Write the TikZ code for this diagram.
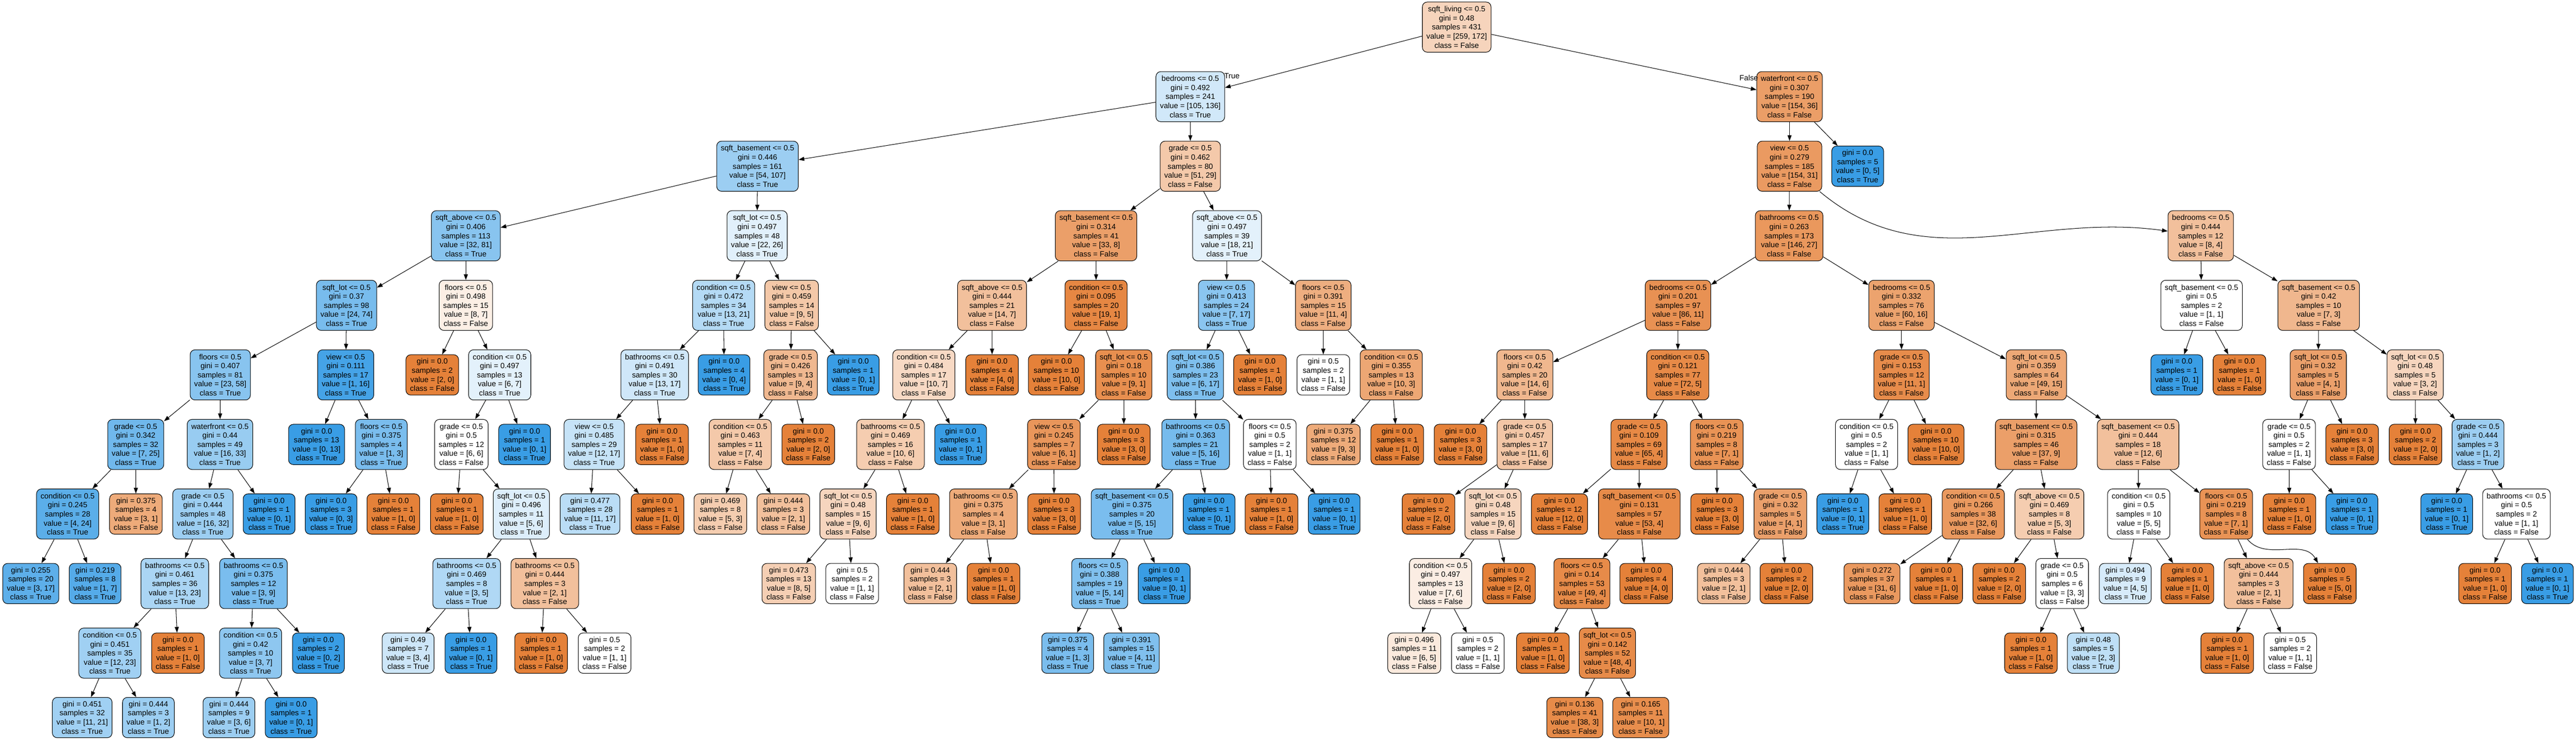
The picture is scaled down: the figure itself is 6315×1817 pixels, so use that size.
\documentclass[tikz,border=0pt]{standalone}
\usepackage{fontspec}
\usetikzlibrary{arrows.meta}
\newfontfamily\dtfont{Liberation Sans}
\definecolor{cF}{RGB}{229,129,57}
\definecolor{cT}{RGB}{57,157,229}
\newcommand\dtcolor[2]{%
  \ifnum#1<#2\relax
    \pgfmathtruncatemacro\dtp{round(100*(#2-#1)/#2)}%
    \colorlet{dtcol}{cT!\dtp!white}\def\dtcls{True}%
  \else
    \pgfmathtruncatemacro\dtp{round(100*(#1-#2)/#1)}%
    \colorlet{dtcol}{cF!\dtp!white}\def\dtcls{False}%
  \fi}
\newcommand\dsplit[8]{\dtcolor{#7}{#8}%
  \node[splitbox, fill=dtcol] (#1) at (#2,-#3) {#4\\gini = #5\\samples = #6\\value = [#7, #8]\\class = \dtcls};}
\newcommand\dleaf[7]{\dtcolor{#6}{#7}%
  \node[leafbox, fill=dtcol] (#1) at (#2,-#3) {gini = #4\\samples = #5\\value = [#6, #7]\\class = \dtcls};}
\begin{document}
\begin{tikzpicture}[x=1pt, y=1pt,
  dtbox/.style={rectangle, rounded corners=12pt, draw=black, line width=1.3pt, align=center,
    font={\dtfont\fontsize{18.6}{22.2}\selectfont}, inner xsep=10pt, inner ysep=0pt},
  splitbox/.style={dtbox, minimum height=123pt},
  leafbox/.style={dtbox, minimum height=99pt},
  dtedge/.style={-{Triangle[length=14pt,width=10pt]}, line width=1.3pt, draw=black},
  lbl/.style={font={\dtfont\fontsize{18.6}{22.2}\selectfont}, inner sep=0pt}]
\useasboundingbox[fill=white] (0,0) rectangle (6315,-1817);
% level 0-3
\dsplit{r}{3571}{66.5}{sqft\_living <= 0.5}{0.48}{431}{259}{172}
\dsplit{a1}{2918}{237.1}{bedrooms <= 0.5}{0.492}{241}{105}{136}
\dsplit{a2}{4387}{237.1}{waterfront <= 0.5}{0.307}{190}{154}{36}
\dsplit{b1}{1857}{407.7}{sqft\_basement <= 0.5}{0.446}{161}{54}{107}
\dsplit{b2}{2918}{407.7}{grade <= 0.5}{0.462}{80}{51}{29}
\dsplit{b3}{4387}{407.7}{view <= 0.5}{0.279}{185}{154}{31}
\dleaf{b4}{4554}{407.7}{0.0}{5}{0}{5}
\dsplit{c1}{1142}{578.3}{sqft\_above <= 0.5}{0.406}{113}{32}{81}
\dsplit{c2}{1856}{578.3}{sqft\_lot <= 0.5}{0.497}{48}{22}{26}
\dsplit{c3}{2687}{578.3}{sqft\_basement <= 0.5}{0.314}{41}{33}{8}
\dsplit{c4}{3008}{578.3}{sqft\_above <= 0.5}{0.497}{39}{18}{21}
\dsplit{c5}{4386}{578.3}{bathrooms <= 0.5}{0.263}{173}{146}{27}
\dsplit{c6}{5395}{578.3}{bedrooms <= 0.5}{0.444}{12}{8}{4}
% level 4
\dsplit{d1}{849.5}{748.9}{sqft\_lot <= 0.5}{0.37}{98}{24}{74}
\dsplit{d2}{1142}{748.9}{floors <= 0.5}{0.498}{15}{8}{7}
\dsplit{d3}{1774}{748.9}{condition <= 0.5}{0.472}{34}{13}{21}
\dsplit{d4}{1940.7}{748.9}{view <= 0.5}{0.459}{14}{9}{5}
\dsplit{d5}{2432}{748.9}{sqft\_above <= 0.5}{0.444}{21}{14}{7}
\dsplit{d6}{2687}{748.9}{condition <= 0.5}{0.095}{20}{19}{1}
\dsplit{d7}{3006.5}{748.9}{view <= 0.5}{0.413}{24}{7}{17}
\dsplit{d8}{3244}{748.9}{floors <= 0.5}{0.391}{15}{11}{4}
\dsplit{d9}{4113.6}{748.9}{bedrooms <= 0.5}{0.201}{97}{86}{11}
\dsplit{d10}{4661.5}{748.9}{bedrooms <= 0.5}{0.332}{76}{60}{16}
\dsplit{d11}{5397}{748.9}{sqft\_basement <= 0.5}{0.5}{2}{1}{1}
\dsplit{d12}{5684}{748.9}{sqft\_basement <= 0.5}{0.42}{10}{7}{3}
% level 5
\dsplit{e1}{540}{919.5}{floors <= 0.5}{0.407}{81}{23}{58}
\dsplit{e2}{847.5}{919.5}{view <= 0.5}{0.111}{17}{1}{16}
\dleaf{e3}{1059.7}{919.5}{0.0}{2}{2}{0}
\dsplit{e4}{1225}{919.5}{condition <= 0.5}{0.497}{13}{6}{7}
\dsplit{e5}{1605}{919.5}{bathrooms <= 0.5}{0.491}{30}{13}{17}
\dleaf{e6}{1775}{919.5}{0.0}{4}{0}{4}
\dsplit{e7}{1938}{919.5}{grade <= 0.5}{0.426}{13}{9}{4}
\dleaf{e8}{2091.7}{919.5}{0.0}{1}{0}{1}
\dsplit{e9}{2264.7}{919.5}{condition <= 0.5}{0.484}{17}{10}{7}
\dleaf{e10}{2432}{919.5}{0.0}{4}{4}{0}
\dleaf{e11}{2589.7}{919.5}{0.0}{10}{10}{0}
\dsplit{e12}{2755}{919.5}{sqft\_lot <= 0.5}{0.18}{10}{9}{1}
\dsplit{e13}{2930.5}{919.5}{sqft\_lot <= 0.5}{0.386}{23}{6}{17}
\dleaf{e14}{3089}{919.5}{0.0}{1}{1}{0}
\dleaf{e15}{3244}{919.5}{0.5}{2}{1}{1}
\dsplit{e16}{3410.5}{919.5}{condition <= 0.5}{0.355}{13}{10}{3}
\dsplit{e17}{3738}{919.5}{floors <= 0.5}{0.42}{20}{14}{6}
\dsplit{e18}{4113}{919.5}{condition <= 0.5}{0.121}{77}{72}{5}
\dsplit{e19}{4661.5}{919.5}{grade <= 0.5}{0.153}{12}{11}{1}
\dsplit{e20}{4992}{919.5}{sqft\_lot <= 0.5}{0.359}{64}{49}{15}
\dleaf{e21}{5336.4}{919.5}{0.0}{1}{0}{1}
\dleaf{e22}{5490}{919.5}{0.0}{1}{1}{0}
\dsplit{e23}{5683}{919.5}{sqft\_lot <= 0.5}{0.32}{5}{4}{1}
\dsplit{e24}{5920.6}{919.5}{sqft\_lot <= 0.5}{0.48}{5}{3}{2}
% level 6
\dsplit{f1}{332.7}{1090.1}{grade <= 0.5}{0.342}{32}{7}{25}
\dsplit{f2}{539.3}{1090.1}{waterfront <= 0.5}{0.44}{49}{16}{33}
\dleaf{f3}{776}{1090.1}{0.0}{13}{0}{13}
\dsplit{f4}{934.7}{1090.1}{floors <= 0.5}{0.375}{4}{1}{3}
\dsplit{f5}{1131}{1090.1}{grade <= 0.5}{0.5}{12}{6}{6}
\dleaf{f6}{1286}{1090.1}{0.0}{1}{0}{1}
\dsplit{f7}{1456.6}{1090.1}{view <= 0.5}{0.485}{29}{12}{17}
\dleaf{f8}{1623}{1090.1}{0.0}{1}{1}{0}
\dsplit{f9}{1814.7}{1090.1}{condition <= 0.5}{0.463}{11}{7}{4}
\dleaf{f10}{1981.5}{1090.1}{0.0}{2}{2}{0}
\dsplit{f11}{2183}{1090.1}{bathrooms <= 0.5}{0.469}{16}{10}{6}
\dleaf{f12}{2355}{1090.1}{0.0}{1}{0}{1}
\dsplit{f13}{2583.6}{1090.1}{view <= 0.5}{0.245}{7}{6}{1}
\dleaf{f14}{2755}{1090.1}{0.0}{3}{3}{0}
\dsplit{f15}{2931}{1090.1}{bathrooms <= 0.5}{0.363}{21}{5}{16}
\dsplit{f16}{3113}{1090.1}{floors <= 0.5}{0.5}{2}{1}{1}
\dleaf{f17}{3268.7}{1090.1}{0.375}{12}{9}{3}
\dleaf{f18}{3425.3}{1090.1}{0.0}{1}{1}{0}
\dleaf{f19}{3580.4}{1090.1}{0.0}{3}{3}{0}
\dsplit{f20}{3738}{1090.1}{grade <= 0.5}{0.457}{17}{11}{6}
\dsplit{f21}{4018}{1090.1}{grade <= 0.5}{0.109}{69}{65}{4}
\dsplit{f22}{4208.5}{1090.1}{floors <= 0.5}{0.219}{8}{7}{1}
\dsplit{f23}{4575.8}{1090.1}{condition <= 0.5}{0.5}{2}{1}{1}
\dleaf{f24}{4746}{1090.1}{0.0}{10}{10}{0}
\dsplit{f25}{4991.5}{1090.1}{sqft\_basement <= 0.5}{0.315}{46}{37}{9}
\dsplit{f26}{5241.5}{1090.1}{sqft\_basement <= 0.5}{0.444}{18}{12}{6}
\dsplit{f27}{5611.4}{1090.1}{grade <= 0.5}{0.5}{2}{1}{1}
\dleaf{f28}{5766}{1090.1}{0.0}{3}{3}{0}
\dleaf{f29}{5921.6}{1090.1}{0.0}{2}{2}{0}
\dsplit{f30}{6074.7}{1090.1}{grade <= 0.5}{0.444}{3}{1}{2}
% level 7
\dsplit{g1}{165.8}{1260.7}{condition <= 0.5}{0.245}{28}{4}{24}
\dleaf{g2}{333.2}{1260.7}{0.375}{4}{3}{1}
\dsplit{g3}{497.4}{1260.7}{grade <= 0.5}{0.444}{48}{16}{32}
\dleaf{g4}{659.7}{1260.7}{0.0}{1}{0}{1}
\dleaf{g5}{811.7}{1260.7}{0.0}{3}{0}{3}
\dleaf{g6}{964.3}{1260.7}{0.0}{1}{1}{0}
\dleaf{g7}{1120}{1260.7}{0.0}{1}{1}{0}
\dsplit{g8}{1278}{1260.7}{sqft\_lot <= 0.5}{0.496}{11}{5}{6}
\dleaf{g9}{1446.4}{1260.7}{0.477}{28}{11}{17}
\dleaf{g10}{1612}{1260.7}{0.0}{1}{1}{0}
\dleaf{g11}{1766}{1260.7}{0.469}{8}{5}{3}
\dleaf{g12}{1920.3}{1260.7}{0.444}{3}{2}{1}
\dsplit{g13}{2079}{1260.7}{sqft\_lot <= 0.5}{0.48}{15}{9}{6}
\dleaf{g14}{2237.7}{1260.7}{0.0}{1}{1}{0}
\dsplit{g15}{2410.6}{1260.7}{bathrooms <= 0.5}{0.375}{4}{3}{1}
\dleaf{g16}{2584}{1260.7}{0.0}{3}{3}{0}
\dsplit{g17}{2775}{1260.7}{sqft\_basement <= 0.5}{0.375}{20}{5}{15}
\dleaf{g18}{2964}{1260.7}{0.0}{1}{0}{1}
\dleaf{g19}{3117}{1260.7}{0.0}{1}{1}{0}
\dleaf{g20}{3270.7}{1260.7}{0.0}{1}{0}{1}
\dleaf{g21}{3502}{1260.7}{0.0}{2}{2}{0}
\dsplit{g22}{3660}{1260.7}{sqft\_lot <= 0.5}{0.48}{15}{9}{6}
\dleaf{g23}{3823}{1260.7}{0.0}{12}{12}{0}
\dsplit{g24}{4018.7}{1260.7}{sqft\_basement <= 0.5}{0.131}{57}{53}{4}
\dleaf{g25}{4209.5}{1260.7}{0.0}{3}{3}{0}
\dsplit{g26}{4364.6}{1260.7}{grade <= 0.5}{0.32}{5}{4}{1}
\dleaf{g27}{4517.7}{1260.7}{0.0}{1}{0}{1}
\dleaf{g28}{4670.7}{1260.7}{0.0}{1}{1}{0}
\dsplit{g29}{4837.4}{1260.7}{condition <= 0.5}{0.266}{38}{32}{6}
\dsplit{g30}{5024}{1260.7}{sqft\_above <= 0.5}{0.469}{8}{5}{3}
\dsplit{g31}{5243}{1260.7}{condition <= 0.5}{0.5}{10}{5}{5}
\dsplit{g32}{5457.3}{1260.7}{floors <= 0.5}{0.219}{8}{7}{1}
\dleaf{g33}{5612.4}{1260.7}{0.0}{1}{1}{0}
\dleaf{g34}{5765.5}{1260.7}{0.0}{1}{0}{1}
\dleaf{g35}{5998}{1260.7}{0.0}{1}{0}{1}
\dsplit{g36}{6169}{1260.7}{bathrooms <= 0.5}{0.5}{2}{1}{1}
% level 8
\dleaf{h1}{75.5}{1431.3}{0.255}{20}{3}{17}
\dleaf{h2}{233.2}{1431.3}{0.219}{8}{1}{7}
\dsplit{h3}{428.6}{1431.3}{bathrooms <= 0.5}{0.461}{36}{13}{23}
\dsplit{h4}{621.4}{1431.3}{bathrooms <= 0.5}{0.375}{12}{3}{9}
\dsplit{h5}{1143.9}{1431.3}{bathrooms <= 0.5}{0.469}{8}{3}{5}
\dsplit{h6}{1335.7}{1431.3}{bathrooms <= 0.5}{0.444}{3}{2}{1}
\dleaf{h7}{1933.6}{1431.3}{0.473}{13}{8}{5}
\dleaf{h8}{2089}{1431.3}{0.5}{2}{1}{1}
\dleaf{h9}{2280.5}{1431.3}{0.444}{3}{2}{1}
\dleaf{h10}{2435.6}{1431.3}{0.0}{1}{1}{0}
\dsplit{h11}{2695.8}{1431.3}{floors <= 0.5}{0.388}{19}{5}{14}
\dleaf{h12}{2854}{1431.3}{0.0}{1}{0}{1}
\dsplit{h13}{3531.4}{1431.3}{condition <= 0.5}{0.497}{13}{7}{6}
\dleaf{h14}{3699.3}{1431.3}{0.0}{2}{2}{0}
\dsplit{h15}{3877.9}{1431.3}{floors <= 0.5}{0.14}{53}{49}{4}
\dleaf{h16}{4035.5}{1431.3}{0.0}{4}{4}{0}
\dleaf{h17}{4225.8}{1431.3}{0.444}{3}{2}{1}
\dleaf{h18}{4379.4}{1431.3}{0.0}{2}{2}{0}
\dleaf{h19}{4589}{1431.3}{0.272}{37}{31}{6}
\dleaf{h20}{4746.5}{1431.3}{0.0}{1}{1}{0}
\dleaf{h21}{4901}{1431.3}{0.0}{2}{2}{0}
\dsplit{h22}{5055.3}{1431.3}{grade <= 0.5}{0.5}{6}{3}{3}
\dleaf{h23}{5210}{1431.3}{0.494}{9}{4}{5}
\dleaf{h24}{5362.4}{1431.3}{0.0}{1}{1}{0}
\dsplit{h25}{5537}{1431.3}{sqft\_above <= 0.5}{0.444}{3}{2}{1}
\dleaf{h26}{5711.4}{1431.3}{0.0}{5}{5}{0}
\dleaf{h27}{6092}{1431.3}{0.0}{1}{1}{0}
\dleaf{h28}{6245}{1431.3}{0.0}{1}{0}{1}
% level 9
\dsplit{i1}{269.4}{1601.9}{condition <= 0.5}{0.451}{35}{12}{23}
\dleaf{i2}{436.2}{1601.9}{0.0}{1}{1}{0}
\dsplit{i3}{614.3}{1601.9}{condition <= 0.5}{0.42}{10}{3}{7}
\dleaf{i4}{780.6}{1601.9}{0.0}{2}{0}{2}
\dleaf{i5}{1000.5}{1601.9}{0.49}{7}{3}{4}
\dleaf{i6}{1154.6}{1601.9}{0.0}{1}{0}{1}
\dleaf{i7}{1326.5}{1601.9}{0.0}{1}{1}{0}
\dleaf{i8}{1482.1}{1601.9}{0.5}{2}{1}{1}
\dleaf{i9}{2617.3}{1601.9}{0.375}{4}{1}{3}
\dleaf{i10}{2773.9}{1601.9}{0.391}{15}{4}{11}
\dleaf{i11}{3467}{1601.9}{0.496}{11}{6}{5}
\dleaf{i12}{3622.8}{1601.9}{0.5}{2}{1}{1}
\dleaf{i13}{3782.4}{1601.9}{0.0}{1}{1}{0}
\dsplit{i14}{3940.6}{1601.9}{sqft\_lot <= 0.5}{0.142}{52}{48}{4}
\dleaf{i15}{4978.8}{1601.9}{0.0}{1}{1}{0}
\dleaf{i16}{5131.8}{1601.9}{0.48}{5}{2}{3}
\dleaf{i17}{5460}{1601.9}{0.0}{1}{1}{0}
\dleaf{i18}{5614.5}{1601.9}{0.5}{2}{1}{1}
% level 10
\dleaf{j1}{201.5}{1760}{0.451}{32}{11}{21}
\dleaf{j2}{363.8}{1760}{0.444}{3}{1}{2}
\dleaf{j3}{561.2}{1760}{0.444}{9}{3}{6}
\dleaf{j4}{713.8}{1760}{0.0}{1}{0}{1}
\dleaf{j5}{3860.5}{1760}{0.136}{41}{38}{3}
\dleaf{j6}{4022.2}{1760}{0.165}{11}{10}{1}
% edge labels
\node[lbl, anchor=west] (tlab) at (3001,-186.5) {True};
\node[lbl, anchor=east] (flab) at (4310,-191) {False};
% edges
\foreach \pa/\ch in {r/a1,r/a2,a1/b1,a1/b2,a2/b3,a2/b4,b1/c1,b1/c2,b2/c3,b2/c4,b3/c5,
  c1/d1,c1/d2,c2/d3,c2/d4,c3/d5,c3/d6,c4/d7,c4/d8,c5/d9,c5/d10,c6/d11,c6/d12,
  d1/e1,d1/e2,d2/e3,d2/e4,d3/e5,d3/e6,d4/e7,d4/e8,d5/e9,d5/e10,d6/e11,d6/e12,d7/e13,d7/e14,
  d8/e15,d8/e16,d9/e17,d9/e18,d10/e19,d10/e20,d11/e21,d11/e22,d12/e23,d12/e24,
  e1/f1,e1/f2,e2/f3,e2/f4,e4/f5,e4/f6,e5/f7,e5/f8,e7/f9,e7/f10,e9/f11,e9/f12,e12/f13,e12/f14,
  e13/f15,e13/f16,e16/f17,e16/f18,e17/f19,e17/f20,e18/f21,e18/f22,e19/f23,e19/f24,e20/f25,e20/f26,
  e23/f27,e23/f28,e24/f29,e24/f30,
  f1/g1,f1/g2,f2/g3,f2/g4,f4/g5,f4/g6,f5/g7,f5/g8,f7/g9,f7/g10,f9/g11,f9/g12,f11/g13,f11/g14,
  f13/g15,f13/g16,f15/g17,f15/g18,f16/g19,f16/g20,f20/g21,f20/g22,f21/g23,f21/g24,f22/g25,f22/g26,
  f23/g27,f23/g28,f25/g29,f25/g30,f26/g31,f26/g32,f27/g33,f27/g34,f30/g35,f30/g36,
  g1/h1,g1/h2,g3/h3,g3/h4,g8/h5,g8/h6,g13/h7,g13/h8,g15/h9,g15/h10,g17/h11,g17/h12,g22/h13,g22/h14,
  g24/h15,g24/h16,g26/h17,g26/h18,g29/h19,g29/h20,g30/h21,g30/h22,g31/h23,g31/h24,g32/h25,
  g36/h27,g36/h28,
  h3/i1,h3/i2,h4/i3,h4/i4,h5/i5,h5/i6,h6/i7,h6/i8,h11/i9,h11/i10,h13/i11,h13/i12,h15/i13,h15/i14,
  h22/i15,h22/i16,h25/i17,h25/i18,
  i1/j1,i1/j2,i3/j3,i3/j4,i14/j5,i14/j6}
  \draw[dtedge] (\pa) -- (\ch);
\draw[dtedge] (b3) to[out=-40, in=172] (c6);
\draw[dtedge] (g32) to[out=-50, in=120] (h26);
\end{tikzpicture}
\end{document}
